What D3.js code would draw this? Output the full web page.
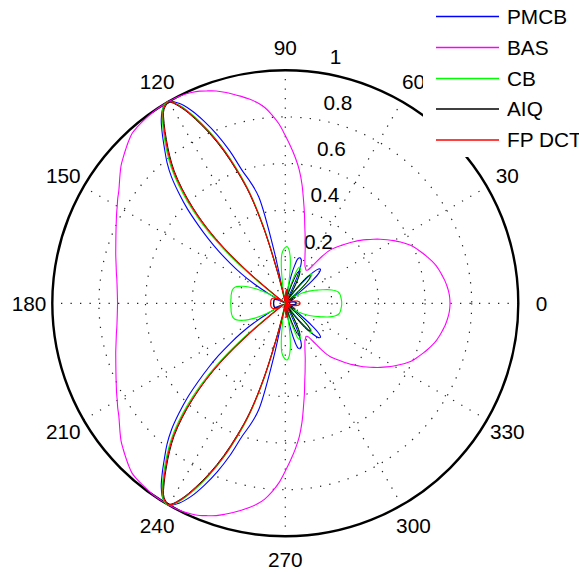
<!DOCTYPE html>
<html>
<head>
<meta charset="utf-8">
<script src="https://cdn.jsdelivr.net/npm/d3@7"></script>
<style>
  body { margin: 0; background: #fff; }
  svg { display: block; }
  text { font-family: "Liberation Sans", Arial, Helvetica, sans-serif; }
</style>
</head>
<body>
<svg id="chart" width="579" height="574"></svg>
<script>
// Beam patterns of a linear array lying on the 0–180° axis.
// Each pattern is symmetric about that axis, so values are given for 0–180°
// (every 2°) and the lower half is drawn as the mirror image.
const angleStep = 2;
const angles = d3.range(0, 181, angleStep);

const seriesNames = ["PMCB", "BAS", "CB", "AIQ", "FP DCT"];
const seriesColors = ["#0000ff", "#ff00ff", "#00ff00", "#000000", "#ff0000"];

const pmcb = [
  0.045, 0.045, 0.044, 0.042, 0.038, 0.033, 0.027, 0.020, 0.012, 0.005,
  0.010, 0.020, 0.030, 0.035, 0.033, 0.025, 0.012, 0.005, 0.020, 0.080,
  0.150, 0.195, 0.210, 0.205, 0.180, 0.130, 0.070, 0.015, 0.020, 0.030,
  0.025, 0.010, 0.060, 0.130, 0.180, 0.200, 0.205, 0.200, 0.170, 0.120,
  0.060, 0.010, 0.020, 0.030, 0.030, 0.020, 0.008, 0.010, 0.020, 0.015,
  0.010, 0.220, 0.470, 0.540, 0.600, 0.695, 0.780, 0.855, 0.922, 0.972,
  1.000, 0.990, 0.952, 0.898, 0.842, 0.790, 0.730, 0.658, 0.585, 0.505,
  0.432, 0.362, 0.292, 0.228, 0.160, 0.085, 0.010, 0.020, 0.035, 0.045,
  0.050, 0.050, 0.050, 0.050, 0.050, 0.050, 0.050, 0.050, 0.050, 0.050,
  0.050
];

const bas = [
  0.707, 0.706, 0.703, 0.698, 0.692, 0.684, 0.676, 0.667, 0.655, 0.642,
  0.628, 0.614, 0.600, 0.581, 0.560, 0.538, 0.515, 0.492, 0.468, 0.444,
  0.420, 0.395, 0.370, 0.345, 0.322, 0.298, 0.255, 0.200, 0.172, 0.168,
  0.174, 0.180, 0.192, 0.207, 0.226, 0.250, 0.276, 0.308, 0.345, 0.395,
  0.450, 0.515, 0.575, 0.625, 0.672, 0.720, 0.770, 0.810, 0.845, 0.870,
  0.890, 0.908, 0.925, 0.942, 0.958, 0.970, 0.982, 0.990, 0.996, 0.999,
  1.000, 1.000, 0.999, 0.996, 0.992, 0.988, 0.982, 0.968, 0.952, 0.936,
  0.920, 0.900, 0.880, 0.862, 0.848, 0.833, 0.820, 0.807, 0.795, 0.784,
  0.774, 0.765, 0.757, 0.749, 0.742, 0.736, 0.730, 0.726, 0.723, 0.721,
  0.720
];

const cb = [
  0.242, 0.242, 0.241, 0.240, 0.239, 0.237, 0.232, 0.222, 0.208, 0.190,
  0.170, 0.152, 0.137, 0.122, 0.107, 0.092, 0.077, 0.062, 0.047, 0.025,
  0.005, 0.060, 0.125, 0.160, 0.170, 0.155, 0.110, 0.045, 0.005, 0.020,
  0.050, 0.090, 0.130, 0.158, 0.168, 0.160, 0.120, 0.060, 0.010, 0.030,
  0.080, 0.150, 0.200, 0.230, 0.243, 0.240, 0.230, 0.212, 0.165, 0.085,
  0.020, 0.005, 0.150, 0.355, 0.510, 0.620, 0.722, 0.812, 0.892, 0.960,
  1.000, 0.990, 0.942, 0.885, 0.825, 0.762, 0.686, 0.600, 0.505, 0.395,
  0.260, 0.110, 0.010, 0.005, 0.020, 0.060, 0.110, 0.145, 0.172, 0.195,
  0.212, 0.225, 0.231, 0.234, 0.235, 0.235, 0.235, 0.234, 0.234, 0.234,
  0.234
];

const aiq = [
  0.050, 0.050, 0.049, 0.047, 0.044, 0.040, 0.034, 0.027, 0.018, 0.009,
  0.002, 0.010, 0.022, 0.035, 0.045, 0.050, 0.048, 0.040, 0.028, 0.012,
  0.010, 0.060, 0.120, 0.150, 0.160, 0.150, 0.110, 0.055, 0.010, 0.030,
  0.070, 0.110, 0.140, 0.152, 0.145, 0.110, 0.060, 0.015, 0.030, 0.050,
  0.060, 0.058, 0.045, 0.025, 0.005, 0.010, 0.020, 0.025, 0.020, 0.010,
  0.020, 0.050, 0.140, 0.330, 0.490, 0.600, 0.705, 0.797, 0.878, 0.950,
  0.995, 0.982, 0.930, 0.868, 0.807, 0.742, 0.662, 0.572, 0.472, 0.352,
  0.195, 0.045, 0.005, 0.018, 0.028, 0.035, 0.040, 0.044, 0.047, 0.049,
  0.050, 0.050, 0.050, 0.050, 0.050, 0.050, 0.050, 0.050, 0.050, 0.050,
  0.050
];

const fpdct = [
  0.063, 0.063, 0.062, 0.060, 0.057, 0.053, 0.047, 0.040, 0.032, 0.023,
  0.013, 0.004, 0.008, 0.016, 0.022, 0.024, 0.021, 0.014, 0.005, 0.006,
  0.015, 0.020, 0.019, 0.012, 0.003, 0.010, 0.018, 0.022, 0.020, 0.012,
  0.003, 0.012, 0.024, 0.032, 0.034, 0.028, 0.016, 0.003, 0.018, 0.036,
  0.050, 0.058, 0.060, 0.055, 0.045, 0.030, 0.015, 0.004, 0.010, 0.020,
  0.030, 0.060, 0.150, 0.340, 0.500, 0.610, 0.715, 0.805, 0.885, 0.955,
  1.000, 0.985, 0.935, 0.875, 0.815, 0.750, 0.670, 0.580, 0.480, 0.360,
  0.200, 0.050, 0.010, 0.022, 0.032, 0.040, 0.046, 0.051, 0.055, 0.058,
  0.060, 0.061, 0.062, 0.062, 0.063, 0.063, 0.063, 0.063, 0.063, 0.063,
  0.063
];

const seriesValues = [pmcb, bas, cb, aiq, fpdct];

const ringTicks = [0.2, 0.4, 0.6, 0.8, 1];
const spokeAngles = [30, 60, 90, 120, 150, 180];
const angleTickLabels = ["30", "60", "90", "120", "150", "180", "210", "240", "270", "300", "330", "0"];

// ---- layout ----
const width = 579, height = 574;
const cx = 285.3, cy = 303.3, R = 233;
const fontSize = 20.8;
const rad = d => d * Math.PI / 180;

const svg = d3.select("#chart");
const r = d3.scaleLinear().domain([0, 1]).range([0, R]);

const plot = svg.append("g").attr("transform", `translate(${cx},${cy})`);

// white disc
plot.append("circle").attr("r", r(1)).attr("fill", "#fff");

// dotted rings
plot.selectAll("circle.ring")
  .data(ringTicks.filter(t => t < 1))
  .join("circle")
  .attr("class", "ring")
  .attr("r", d => r(d))
  .attr("fill", "none")
  .attr("stroke", "#222")
  .attr("stroke-width", 1.2)
  .attr("stroke-dasharray", "1.3 8.2");

// dotted spokes through the centre
plot.selectAll("line.spoke")
  .data(spokeAngles)
  .join("line")
  .attr("class", "spoke")
  .attr("x1", d => -r(1) * Math.cos(rad(d)))
  .attr("y1", d => r(1) * Math.sin(rad(d)))
  .attr("x2", d => r(1) * Math.cos(rad(d)))
  .attr("y2", d => -r(1) * Math.sin(rad(d)))
  .attr("stroke", "#222")
  .attr("stroke-width", 1.2)
  .attr("stroke-dasharray", "1.3 8.2");

// solid outer circle
plot.append("circle")
  .attr("r", r(1))
  .attr("fill", "none")
  .attr("stroke", "#000")
  .attr("stroke-width", 2.4);

// angle labels just outside the circle
plot.selectAll("text.angle")
  .data(angleTickLabels)
  .join("text")
  .attr("class", "angle")
  .attr("x", (d, i) => 1.1 * r(1) * Math.cos(rad((i + 1) * 30)))
  .attr("y", (d, i) => -1.1 * r(1) * Math.sin(rad((i + 1) * 30)))
  .attr("text-anchor", "middle")
  .attr("dy", "0.36em")
  .attr("font-size", fontSize)
  .attr("fill", "#000")
  .text(d => d);

// ring labels along the 82° direction
const labelAngle = rad(82);
plot.selectAll("text.ringlabel")
  .data(ringTicks)
  .join("text")
  .attr("class", "ringlabel")
  .attr("x", d => r(d + 0.02) * Math.cos(labelAngle) + 11.5)
  .attr("y", d => -r(d + 0.02) * Math.sin(labelAngle) - 4)
  .attr("font-size", fontSize)
  .attr("fill", "#000")
  .text(d => String(d));

// pattern curves
const radial = d3.lineRadial()
  .angle(d => rad(90 - d[0]))
  .radius(d => r(d[1]))
  .curve(d3.curveCatmullRomClosed.alpha(0.5));

function fullPattern(values) {
  const pts = angles.map((a, i) => [a, values[i]]);
  // lower half: mirror of 0–180° (skip the shared end points)
  for (let i = angles.length - 2; i >= 1; i--) {
    pts.push([360 - angles[i], values[i]]);
  }
  return pts;
}

const lineWidths = [1.1, 1.1, 1.1, 1.0, 1.2];

plot.selectAll("path.pattern")
  .data(seriesValues)
  .join("path")
  .attr("class", "pattern")
  .attr("d", v => radial(fullPattern(v)))
  .attr("fill", "none")
  .attr("stroke", (d, i) => seriesColors[i])
  .attr("stroke-width", (d, i) => lineWidths[i])
  .attr("stroke-linejoin", "round");

// legend (sits over the top-right of the plot; its right edge runs past the page)
const legend = svg.append("g");
legend.append("rect")
  .attr("x", 423).attr("y", 0)
  .attr("width", width - 423).attr("height", 157)
  .attr("fill", "#fff");

const rowY = [16.5, 47.5, 78.5, 109, 140];
const item = legend.selectAll("g.item")
  .data(seriesNames)
  .join("g")
  .attr("class", "item")
  .attr("transform", (d, i) => `translate(0,${rowY[i]})`);

item.append("line")
  .attr("x1", 436).attr("x2", 499)
  .attr("y1", 0).attr("y2", 0)
  .attr("stroke", (d, i) => seriesColors[i])
  .attr("stroke-width", 1.5);

item.append("text")
  .attr("x", 507)
  .attr("y", 7.4)
  .attr("font-size", fontSize)
  .attr("fill", "#000")
  .text(d => d);
</script>
</body>
</html>
